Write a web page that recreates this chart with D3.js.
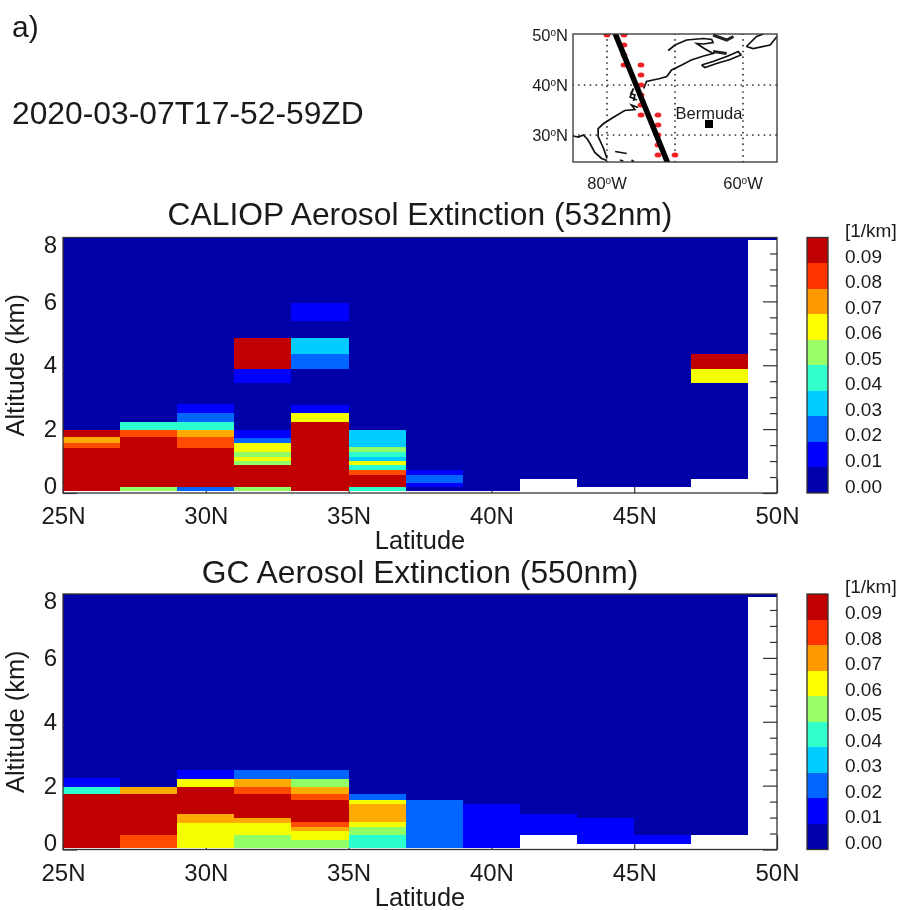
<!DOCTYPE html>
<html>
<head>
<meta charset="utf-8">
<script src="https://cdn.jsdelivr.net/npm/d3@7"></script>
<style>
  html, body { margin: 0; padding: 0; background: #fff; }
  svg { display: block; font-family: "Liberation Sans", Arial, sans-serif; filter: blur(0.4px); }
  text { fill: #1a1a1a; }
</style>
</head>
<body>
<script>
// latitude bins, each column is 2 deg wide
var latEdges = [25, 27, 29, 31, 33, 35, 37, 39, 41, 43, 45, 47, 49, 51];
var latTicks = [25, 30, 35, 40, 45, 50];
var altTicks = [0, 2, 4, 6, 8];
var altMinor = [0.5, 1, 1.5, 2.5, 3, 3.5, 4.5, 5, 5.5, 6.5, 7, 7.5];
var cbarLevels = [0, 0.01, 0.02, 0.03, 0.04, 0.05, 0.06, 0.07, 0.08, 0.09];
var altTop = 8;

// each column: [altitude of band base in km, extinction in 1/km], bands run up to the next base
var caliopBands = [
  [[0.06,.095],[1.42,.085],[1.57,.075],[1.74,.095],[1.98,.005]],
  [[0.06,.055],[0.19,.095],[1.74,.085],[1.98,.045],[2.23,.005]],
  [[0.06,.025],[0.19,.095],[1.42,.085],[1.74,.075],[1.98,.045],[2.23,.025],[2.5,.015],[2.78,.005]],
  [[0.06,.055],[0.19,.095],[0.87,.055],[1.0,.065],[1.13,.055],[1.27,.065],[1.56,.025],[1.73,.015],[1.98,.005],[3.43,.015],[3.88,.095],[4.85,.005]],
  [[0.06,.095],[2.23,.065],[2.5,.015],[2.77,.005],[3.88,.025],[4.34,.035],[4.85,.005],[5.39,.015],[5.95,.005]],
  [[0.06,.045],[0.19,.095],[0.57,.085],[0.73,.045],[0.87,.065],[1.0,.035],[1.13,.045],[1.27,.055],[1.44,.035],[1.98,.005]],
  [[0.06,.005],[0.19,.015],[0.31,.025],[0.57,.015],[0.73,.005]],
  [[0.06,.005]],
  [[0.45,.005]],
  [[0.19,.005]],
  [[0.19,.005]],
  [[0.45,.005],[3.43,.065],[3.88,.095],[4.34,.005]],
  [[7.92,.005]]
];
var gcBands = [
  [[0.06,.095],[1.73,.045],[1.97,.015],[2.24,.005]],
  [[0.06,.085],[0.44,.095],[1.74,.075],[1.97,.005]],
  [[0.06,.065],[0.84,.075],[1.12,.095],[1.97,.065],[2.22,.015],[2.49,.005]],
  [[0.06,.055],[0.44,.065],[0.84,.075],[0.99,.095],[1.73,.085],[1.97,.075],[2.22,.025],[2.49,.005]],
  [[0.06,.055],[0.30,.065],[0.58,.075],[0.72,.085],[0.85,.095],[1.56,.085],[1.73,.075],[1.97,.055],[2.22,.025],[2.49,.005]],
  [[0.06,.045],[0.44,.055],[0.71,.065],[0.85,.075],[1.41,.065],[1.56,.025],[1.73,.005]],
  [[0.06,.025],[1.56,.005]],
  [[0.06,.015],[1.42,.005]],
  [[0.45,.015],[1.12,.005]],
  [[0.18,.015],[1.0,.005]],
  [[0.18,.015],[0.45,.005]],
  [[0.45,.005]],
  [[7.92,.005]]
];

var barColors = ["#0000aa","#0000ff","#0066ff","#00ccff","#33ffcc","#99ff66","#ffff00","#ff9900","#ff3300","#c00000"];
var cellColors = ["#0000a8","#0000ff","#0066ff","#00ccff","#2bffd0","#90ff66","#f5ff00","#ffaa00","#ff4c00","#c00000"];

// inset map, lon/lat
var mapLonTicks = [-80, -70, -60];
var mapLatTicks = [30, 40, 50];
var trackLon = [-78.8, -71.1];
var trackLat = [50.3, 24.5];
var dotLon = [-80,-77.5,-77.5,-77.5,-77.5,-75,-75,-75,-75,-75,-75,-72.5,-72.5,-72.5,-72.5,-72.5,-70];
var dotLat = [50,50,48,46,44,44,42,40,38,36,34,34,32,30,28,26,26];
var coastLines = [
  [[-85,29.8],[-84.2,29.6],[-83.5,30],[-82.9,29.2],[-82.5,28.3],[-81.8,26.5],[-81.2,25.8],[-80.8,25.3],[-80,24.9]],
  [[-80,25.3],[-80.5,27.3],[-81.3,29.7],[-81.3,31.3],[-80.5,32.3],[-79.1,33.5],[-77.4,34.9],[-75.9,35.1],[-76.4,36],[-75.4,35.5]],
  [[-76.1,36.8],[-75.9,38],[-76.5,38.3],[-76.1,39.3],[-76.6,37.6],[-76.1,37.3],[-75.6,37]],
  [[-74.6,39.3],[-74.2,40.7],[-72.2,41.3],[-71.2,41.7],[-70.5,43],[-69,44],[-67.6,45],[-65.8,45.8],[-64.4,46.3],[-65.7,47.3],[-66.8,48.3],[-65.8,48.2],[-64.4,48.5],[-64.6,49.1],[-65.8,49.3],[-68.3,49],[-70,48],[-71,46.9]],
  [[-66.1,44],[-64.4,44.7],[-62.4,45.7],[-60.7,46.7],[-60.3,46],[-61.9,45.1],[-63.9,44.3],[-65.6,43.5],[-66.1,44]],
  [[-59.5,47.7],[-58,49.7],[-57,50.2]],
  [[-55,49.7],[-56,48],[-58.5,47.3],[-59.5,47.7]],
  [[-78.8,26.7],[-77.1,26.3]],
  [[-78.1,25],[-77.6,24.8]],
  [[-76.4,25],[-76,24.6]]
];
// small islands that come out as thick strokes
var coastThick = [
  [[-64.4,46.7],[-62.4,46.3]],
  [[-64.4,50],[-62.4,49],[-61.4,49.7]]
];

var svg = d3.select("body").append("svg").attr("width", 898).attr("height", 910);
var ink = "#333";

var color = d3.scaleThreshold().domain(cbarLevels.slice(1)).range(cellColors);
var x = d3.scaleLinear().domain([25, 50]).range([63, 777]).clamp(true);

function drawPanel(bands, title, y0, y1, titleY, xlabelY) {
  var y = d3.scaleLinear().domain([0, altTop]).range([y1, y0]);
  var g = svg.append("g");

  // ticks first, the cells sit on top of them like in the original
  g.append("g").attr("transform", "translate(0," + y1 + ")")
    .call(d3.axisBottom(x).tickValues(latTicks).tickSizeInner(-14).tickSizeOuter(0).tickPadding(14)
      .tickFormat(function(d) { return d + "N"; }))
    .call(styleAxis);
  g.append("g").attr("transform", "translate(63,0)")
    .call(d3.axisLeft(y).tickValues(altTicks).tickSizeInner(-14).tickSizeOuter(0).tickPadding(6)
      .tickFormat(d3.format("d")))
    .call(styleAxis)
    .selectAll("text")
    // end labels are pulled inside the axis range
    .attr("transform", function(d) { return "translate(0," + (d === 0 ? -7 : d === altTop ? 7 : 0) + ")"; });
  g.append("g").attr("transform", "translate(777,0)")
    .call(d3.axisLeft(y).tickValues(altTicks).tickSizeInner(14).tickSizeOuter(0).tickFormat(""))
    .call(styleAxis);
  g.append("g").attr("transform", "translate(777,0)")
    .call(d3.axisLeft(y).tickValues(altMinor).tickSizeInner(7).tickSizeOuter(0).tickFormat(""))
    .call(styleAxis);

  var cols = g.selectAll("g.col").data(bands).enter().append("g").attr("class", "col");
  cols.each(function(col, i) {
    d3.select(this).selectAll("rect").data(col).enter().append("rect")
      .attr("x", x(latEdges[i]))
      .attr("width", x(latEdges[i + 1]) - x(latEdges[i]))
      .attr("y", function(d, j) { return y(j + 1 < col.length ? col[j + 1][0] : altTop); })
      .attr("height", function(d, j) { return y(d[0]) - y(j + 1 < col.length ? col[j + 1][0] : altTop); })
      .attr("fill", function(d) { return color(d[1]); })
      .attr("shape-rendering", "crispEdges");
  });

  g.append("rect").attr("x", 63).attr("y", y0).attr("width", 714).attr("height", y1 - y0)
    .attr("fill", "none").attr("stroke", ink).attr("stroke-width", 1.3);

  g.append("text").attr("x", 420).attr("y", titleY).attr("text-anchor", "middle")
    .style("font-size", "31.8px").text(title);
  g.append("text").attr("x", 420).attr("y", xlabelY).attr("text-anchor", "middle")
    .style("font-size", "25.4px").text("Latitude");
  g.append("text").attr("transform", "translate(24," + (y0 + y1) / 2 + ") rotate(-90)")
    .attr("text-anchor", "middle").style("font-size", "25.4px").text("Altitude (km)");

  // colour bar
  var c = d3.scaleLinear().domain([0, 0.1]).range([y1, y0]);
  var bar = g.append("g");
  bar.selectAll("rect").data(cbarLevels).enter().append("rect")
    .attr("x", 807).attr("width", 21)
    .attr("y", function(d) { return c(d + 0.01); })
    .attr("height", function(d) { return c(d) - c(d + 0.01); })
    .attr("fill", function(d, i) { return barColors[i]; })
    .attr("shape-rendering", "crispEdges");
  bar.append("rect").attr("x", 807).attr("y", y0).attr("width", 21).attr("height", y1 - y0)
    .attr("fill", "none").attr("stroke", ink).attr("stroke-width", 1.3);
  bar.selectAll("text").data(cbarLevels).enter().append("text")
    .attr("x", 845).attr("y", function(d) { return c(d) - 0.5; })
    .style("font-size", "19px").text(d3.format(".2f"));
  g.append("text").attr("x", 845).attr("y", y0 - 1).style("font-size", "19px").text("[1/km]");
}

function styleAxis(sel) {
  sel.select(".domain").remove();
  sel.selectAll("line").attr("stroke", ink).attr("stroke-width", 1.2);
  sel.selectAll("text").attr("fill", "#1a1a1a").style("font-size", "24px").style("font-family", "inherit");
}

svg.append("text").attr("x", 12).attr("y", 37).style("font-size", "30px").text("a)");
svg.append("text").attr("x", 12).attr("y", 124).style("font-size", "31.8px").text("2020-03-07T17-52-59ZD");

drawPanel(caliopBands, "CALIOP Aerosol Extinction (532nm)", 237.5, 493, 225, 549);
drawPanel(gcBands, "GC Aerosol Extinction (550nm)", 594, 849.5, 583, 906);

// inset map
var lon = d3.scaleLinear().domain([-85, -55]).range([573, 777]);
var lat = d3.scaleLinear().domain([50, 25]).range([35, 160]);
var map = svg.append("g");
svg.append("clipPath").attr("id", "mapClip").append("rect")
  .attr("x", 573).attr("y", 34).attr("width", 204).attr("height", 128);
var inner = map.append("g").attr("clip-path", "url(#mapClip)");

inner.selectAll("line.mlon").data(mapLonTicks).enter().append("line").attr("class", "mlon")
  .attr("x1", lon).attr("x2", lon).attr("y1", 34).attr("y2", 162);
inner.selectAll("line.mlat").data([30, 40]).enter().append("line").attr("class", "mlat")
  .attr("y1", lat).attr("y2", lat).attr("x1", 573).attr("x2", 777);
inner.selectAll("line").attr("stroke", "#222").attr("stroke-width", 1.7)
  .attr("stroke-linecap", "round").attr("stroke-dasharray", "0.1 5.7");

var coast = d3.line().x(function(d) { return lon(d[0]); }).y(function(d) { return lat(d[1]); });
inner.selectAll("path.coast").data(coastLines).enter().append("path").attr("class", "coast")
  .attr("d", coast).attr("fill", "none").attr("stroke", "#111").attr("stroke-width", 1.7);
inner.selectAll("path.thick").data(coastThick).enter().append("path").attr("class", "thick")
  .attr("d", coast).attr("fill", "none").attr("stroke", "#222").attr("stroke-width", 3);

inner.selectAll("ellipse").data(dotLon).enter().append("ellipse")
  .attr("cx", function(d) { return lon(d); })
  .attr("cy", function(d, i) { return lat(dotLat[i]); })
  .attr("rx", 3.4).attr("ry", 2.5).attr("fill", "#ee2222");

inner.append("path")
  .attr("d", coast(trackLon.map(function(d, i) { return [d, trackLat[i]]; })))
  .attr("stroke", "#000").attr("stroke-width", 5.5).attr("fill", "none");

map.append("rect").attr("x", 573).attr("y", 34).attr("width", 204).attr("height", 128)
  .attr("fill", "none").attr("stroke", ink).attr("stroke-width", 1.3);

map.append("rect").attr("x", lon(-65) - 4).attr("y", lat(32.2) - 4).attr("width", 8).attr("height", 8).attr("fill", "#000");
map.append("text").attr("x", lon(-65)).attr("y", lat(32.2) - 5).attr("text-anchor", "middle")
  .style("font-size", "16.5px").text("Bermuda");

// degree labels with the small raised o
function degLabel(sel, num, hemi) {
  sel.append("tspan").text(num);
  sel.append("tspan").attr("dy", -5).style("font-size", "10px").text("o");
  sel.append("tspan").attr("dy", 5).text(hemi);
}
mapLatTicks.forEach(function(d) {
  map.append("text").attr("x", 568).attr("y", lat(d) + 6).attr("text-anchor", "end")
    .style("font-size", "16.5px").call(degLabel, d, "N");
});
[-80, -60].forEach(function(d) {
  map.append("text").attr("x", lon(d)).attr("y", 189).attr("text-anchor", "middle")
    .style("font-size", "16.5px").call(degLabel, -d, "W");
});
</script>
</body>
</html>
